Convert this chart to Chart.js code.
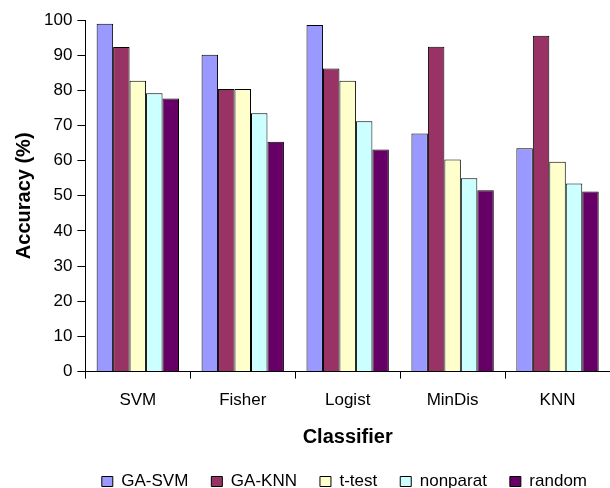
<!DOCTYPE html>
<html>
<head>
<meta charset="utf-8">
<script src="https://cdn.jsdelivr.net/npm/chart.js@4"></script>
<style>
  html, body { margin: 0; padding: 0; background: #fff; }
  #wrap { width: 610px; height: 488px; }
</style>
</head>
<body>
<div id="wrap"><canvas id="chart" width="610" height="488"></canvas></div>
<script>
// data
const classifiers = ['SVM', 'Fisher', 'Logist', 'MinDis', 'KNN'];
const gaSvm    = [98.9, 90.1, 98.6, 67.7, 63.5];
const gaKnn    = [92.3, 80.4, 86.2, 92.4, 95.5];
const tTest    = [82.7, 80.4, 82.7, 60.3, 59.7];
const nonparat = [79.2, 73.5, 71.2, 55.0, 53.5];
const random   = [77.7, 65.4, 63.2, 51.6, 51.2];
const yTicks   = [0, 10, 20, 30, 40, 50, 60, 70, 80, 90, 100];

const FONT = 'Arial, "Liberation Sans", sans-serif';

function serie(label, data, color) {
    return {
        label: label,
        data: data,
        backgroundColor: color,
        borderColor: '#000',
        borderWidth: 1,
        borderSkipped: 'bottom',
        categoryPercentage: 0.785,
        barPercentage: 1.0
    };
}

new Chart(document.getElementById('chart'), {
    type: 'bar',
    data: {
        labels: classifiers,
        datasets: [
            serie('GA-SVM', gaSvm, '#9999FF'),
            serie('GA-KNN', gaKnn, '#993366'),
            serie('t-test', tTest, '#FFFFCC'),
            serie('nonparat', nonparat, '#CCFFFF'),
            serie('random', random, '#660066')
        ]
    },
    options: {
        responsive: false,
        animation: false,
        layout: { padding: { top: 20, right: 0, left: 12, bottom: -12 } },
        plugins: {
            legend: {
                position: 'bottom',
                align: 'end',
                labels: {
                    color: '#000',
                    font: { family: FONT, size: 17 },
                    boxWidth: 11,
                    boxHeight: 10,
                    padding: 23
                }
            },
            tooltip: { enabled: false }
        },
        scales: {
            x: {
                grid: {
                    offset: true,
                    drawOnChartArea: false,
                    drawTicks: true,
                    tickLength: 7,
                    color: '#000'
                },
                border: { color: '#000', width: 1 },
                ticks: {
                    color: '#000',
                    font: { family: FONT, size: 17 },
                    padding: 12
                },
                title: {
                    display: true,
                    text: 'Classifier',
                    color: '#000',
                    font: { family: FONT, size: 20, weight: 'bold' },
                    padding: { top: 2, bottom: 1 }
                }
            },
            y: {
                min: 0,
                max: 100,
                afterBuildTicks: axis => { axis.ticks = yTicks.map(v => ({ value: v })); },
                grid: {
                    drawOnChartArea: false,
                    drawTicks: true,
                    tickLength: 8,
                    color: '#000'
                },
                border: { color: '#000', width: 1 },
                ticks: {
                    color: '#000',
                    font: { family: FONT, size: 17 },
                    padding: 5
                },
                title: {
                    display: true,
                    text: 'Accuracy (%)',
                    color: '#000',
                    font: { family: FONT, size: 20, weight: 'bold' },
                    padding: { top: 0, bottom: 3 }
                }
            }
        }
    }
});
</script>
</body>
</html>
